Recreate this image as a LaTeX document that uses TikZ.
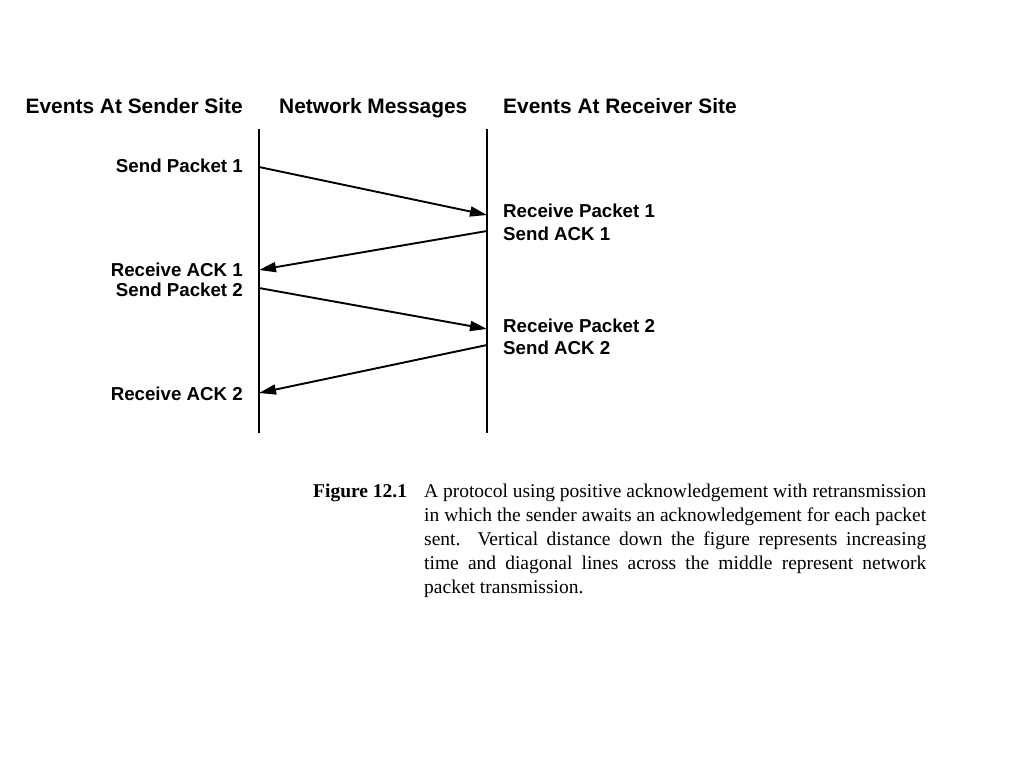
\documentclass[tikz,border=0pt]{standalone}
\usepackage{fontspec}
\setmainfont{Liberation Serif}
\setsansfont{Liberation Sans}
\usetikzlibrary{arrows.meta}
\begin{document}
\begin{tikzpicture}[x=1pt,y=-1pt,
  hdr/.style={font=\sffamily\bfseries\fontsize{20.9}{24}\selectfont, inner sep=0pt},
  lbl/.style={font=\sffamily\bfseries\fontsize{18.7}{22}\selectfont, inner sep=0pt},
  life/.style={line width=2pt},
  msg/.style={line width=1.9pt, -{Triangle[length=17pt,width=10pt]}}]
\useasboundingbox[fill=white] (0,0) rectangle (1024,768);
% headers
\node[hdr, anchor=base east] (hs) at (243,113.5) {Events At Sender Site};
\node[hdr, anchor=base west] (hn) at (279,113.5) {Network Messages};
\node[hdr, anchor=base west] (hr) at (503,113.5) {Events At Receiver Site};
% lifelines
\coordinate (ltop) at (259,129);
\coordinate (lbot) at (259,433);
\coordinate (rtop) at (487,129);
\coordinate (rbot) at (487,433);
\draw[life] (ltop) -- (lbot);
\draw[life] (rtop) -- (rbot);
% event labels
\node[lbl, anchor=base east] (sp1) at (243,172.5) {Send Packet 1};
\node[lbl, anchor=base west] (rp1) at (503,217.5) {Receive Packet 1};
\node[lbl, anchor=base west] (sa1) at (503,240) {Send ACK 1};
\node[lbl, anchor=base east] (ra1) at (243,276) {Receive ACK 1};
\node[lbl, anchor=base east] (sp2) at (243,296.5) {Send Packet 2};
\node[lbl, anchor=base west] (rp2) at (503,332) {Receive Packet 2};
\node[lbl, anchor=base west] (sa2) at (503,354.5) {Send ACK 2};
\node[lbl, anchor=base east] (ra2) at (243,400) {Receive ACK 2};
% message endpoints
\coordinate (m1a) at (259,167);
\coordinate (m1b) at (487,215);
\coordinate (m2a) at (487,231);
\coordinate (m2b) at (259,270);
\coordinate (m3a) at (259,288);
\coordinate (m3b) at (487,329);
\coordinate (m4a) at (487,345);
\coordinate (m4b) at (259,393);
\draw[msg] (m1a) -- (m1b);
\draw[msg] (m2a) -- (m2b);
\draw[msg] (m3a) -- (m3b);
\draw[msg] (m4a) -- (m4b);
% caption
\node[anchor=base west, inner sep=0pt, font=\bfseries\fontsize{19.5}{24}\selectfont] (fig) at (313,497) {Figure 12.1};
\node[anchor=base west, inner sep=0pt, font=\fontsize{19.5}{24}\selectfont] (cap) at (424,497) {\parbox[t]{502pt}{\setlength{\parindent}{0pt}%
\makebox[502pt][s]{A protocol using positive acknowledgement with retransmission}\\
\makebox[502pt][s]{in which the sender awaits an acknowledgement for each packet}\\
\makebox[502pt][s]{sent.\ \ Vertical distance down the figure represents increasing}\\
\makebox[502pt][s]{time and diagonal lines across the middle represent network}\\
packet transmission.}};
\end{tikzpicture}
\end{document}
